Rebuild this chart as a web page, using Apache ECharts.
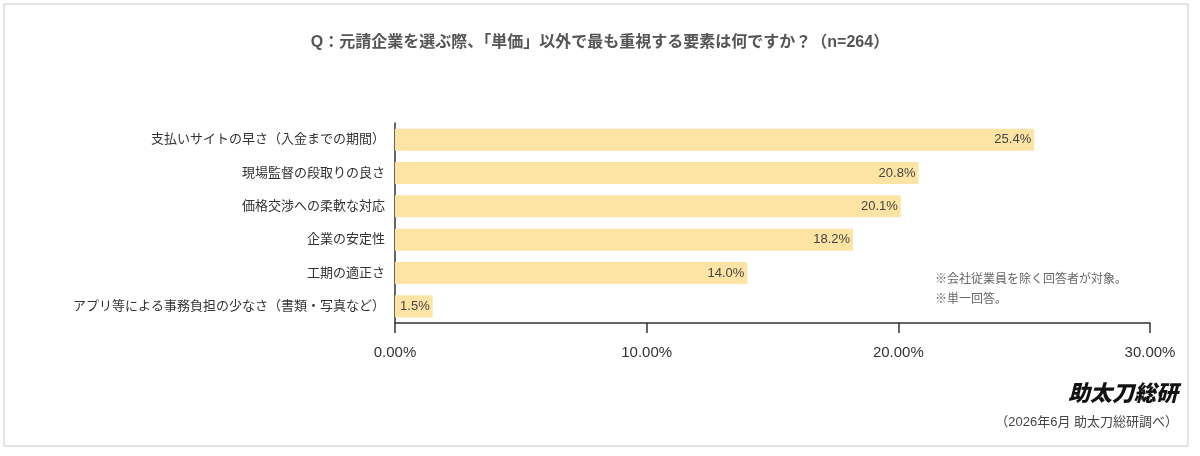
<!DOCTYPE html>
<html><head><meta charset="utf-8">
<script src="https://cdn.jsdelivr.net/npm/echarts@6/dist/echarts.min.js"></script>
<style>html,body{margin:0;background:#fff}#c{width:1200px;height:456px}</style>
</head><body><div id="c"></div>
<script>
const categories = ["支払いサイトの早さ（入金までの期間）","現場監督の段取りの良さ","価格交渉への柔軟な対応","企業の安定性","工期の適正さ","アプリ等による事務負担の少なさ（書類・写真など）"];
const values = [25.4, 20.8, 20.1, 18.2, 14.0, 1.5];
const xTicks = [0, 10, 20, 30];
const F = '"Liberation Sans", "Noto Sans CJK JP", sans-serif';
const chart = echarts.init(document.getElementById('c'));
chart.setOption({
  animation: false,
  title: {text: 'Q：元請企業を選ぶ際、「単価」以外で最も重視する要素は何ですか？（n=264）', left: 'center', top: 30,
    textStyle: {fontFamily: F, fontSize: 16, fontWeight: 'bold', color: '#555'}},
  grid: {left: 395, right: 50, top: 123, bottom: 133},
  xAxis: {type: 'value', min: xTicks[0], max: xTicks[xTicks.length-1], interval: 10,
    axisLine: {show: true, lineStyle: {color: '#333', width: 1.5}},
    axisTick: {show: true, length: 10, inside: false, lineStyle: {color: '#333', width: 1.5}},
    splitLine: {show: false},
    axisLabel: {margin: 22, fontFamily: F, fontSize: 15, color: '#333', formatter: v => v.toFixed(2) + '%'}},
  yAxis: {type: 'category', inverse: true, data: categories,
    axisLine: {show: true, lineStyle: {color: '#333', width: 1.5}}, axisTick: {show: false},
    axisLabel: {fontFamily: F, fontSize: 13, color: '#333', margin: 10}},
  series: [{type: 'bar', data: values, barWidth: 22, itemStyle: {color: '#fde4a4'},
    label: {show: true, position: 'insideRight', formatter: p => p.value.toFixed(1) + '%', fontFamily: F, fontSize: 13, color: '#444', distance: 3}}],
  graphic: [
    {type: 'rect', shape: {x: 4, y: 4, width: 1184, height: 442}, style: {fill: 'none', stroke: '#ccc', lineWidth: 1}, silent: true},
    {type: 'text', left: 935, top: 270, style: {text: '※会社従業員を除く回答者が対象。\n※単一回答。', font: '12px ' + F, fill: '#666', lineHeight: 20}},
    {type: 'text', right: 22, top: 384, style: {text: '助太刀総研', font: 'italic 900 22px ' + F, fill: '#111'}},
    {type: 'text', right: 22, top: 416, style: {text: '（2026年6月 助太刀総研調べ）', font: '13px ' + F, fill: '#444'}}
  ]
});
</script></body></html>
